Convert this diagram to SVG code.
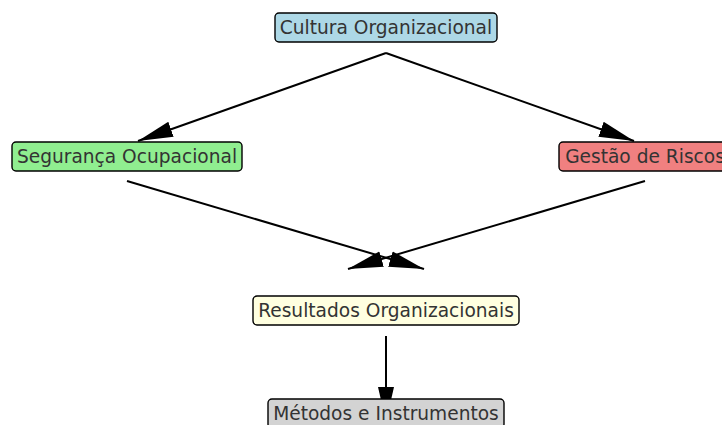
<svg xmlns="http://www.w3.org/2000/svg" width="722" height="425" viewBox="0 0 722 425">
<defs>
<marker id="ah" markerUnits="userSpaceOnUse" markerWidth="36" markerHeight="18" viewBox="0 -9 36 18" refX="35" refY="0" orient="auto">
<path d="M0,-8 L35,0 L0,8 Z" fill="#000"/>
</marker>
<style>
.edge{stroke:#000;stroke-width:2;fill:none;marker-end:url(#ah)}
.box{stroke:#000;stroke-width:1.4}
.lbl{font-family:"DejaVu Sans",sans-serif;font-size:18.6px;fill:#333;text-anchor:middle}
</style>
</defs>
<rect width="722" height="425" fill="#fff"/>
<g id="connectors">
<line class="edge" x1="386" y1="53" x2="138" y2="141"/>
<line class="edge" x1="386" y1="53" x2="634" y2="141"/>
<line class="edge" x1="127" y1="181" x2="424" y2="269"/>
<line class="edge" x1="645" y1="181" x2="348" y2="269"/>
<line class="edge" x1="386" y1="336" x2="386" y2="422"/>
</g>
<g id="cultura">
<rect class="box" x="275" y="13" width="222" height="29" rx="4" fill="#ADD8E6"/>
<text class="lbl" x="386" y="33.5">Cultura Organizacional</text>
</g>
<g id="seguranca">
<rect class="box" x="12" y="142" width="230" height="29" rx="4" fill="#90EE90"/>
<text class="lbl" x="127" y="162.5">Segurança Ocupacional</text>
</g>
<g id="gestao">
<rect class="box" x="559" y="142" width="172" height="29" rx="4" fill="#F08080"/>
<text class="lbl" x="645" y="162.5">Gestão de Riscos</text>
</g>
<g id="resultados">
<rect class="box" x="253" y="296" width="266" height="29" rx="4" fill="#FFFFE0"/>
<text class="lbl" x="386" y="316.5">Resultados Organizacionais</text>
</g>
<g id="metodos">
<rect class="box" x="268" y="399" width="236" height="29" rx="4" fill="#D3D3D3"/>
<text class="lbl" x="386" y="419.5">Métodos e Instrumentos</text>
</g>
</svg>
